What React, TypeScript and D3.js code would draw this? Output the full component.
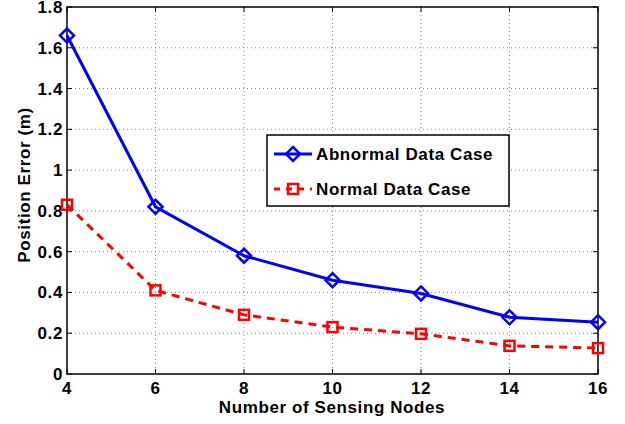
import { useEffect, useRef } from "react";
import * as d3 from "d3";

const nodes = [4, 6, 8, 10, 12, 14, 16];
const abnormal = [1.66, 0.82, 0.58, 0.46, 0.395, 0.278, 0.254];
const normal = [0.83, 0.41, 0.29, 0.23, 0.197, 0.138, 0.127];
const yTicks = [0, 0.2, 0.4, 0.6, 0.8, 1, 1.2, 1.4, 1.6, 1.8];

const W = 625;
const H = 424;
const FONT = "'Liberation Sans', Arial, sans-serif";

export default function App() {
  const svgRef = useRef<SVGSVGElement>(null);

  useEffect(() => {
    const svg = d3.select(svgRef.current);
    svg.selectAll("*").remove();

    const left = 67, right = 598, top = 7, bottom = 374;
    const x = d3.scaleLinear().domain([4, 16]).range([left, right]);
    const y = d3.scaleLinear().domain([0, 1.8]).range([bottom, top]);

    svg.append("rect").attr("width", W).attr("height", H).attr("fill", "#fff");

    // grid
    const grid = svg.append("g").attr("stroke", "#888").attr("stroke-width", 1).attr("stroke-dasharray", "1,3");
    nodes.slice(1, -1).forEach((n) => {
      grid.append("line").attr("x1", x(n)).attr("x2", x(n)).attr("y1", top).attr("y2", bottom);
    });
    yTicks.slice(1, -1).forEach((t) => {
      grid.append("line").attr("x1", left).attr("x2", right).attr("y1", y(t)).attr("y2", y(t));
    });

    // ticks (inside)
    const ticks = svg.append("g").attr("stroke", "#000").attr("stroke-width", 1);
    nodes.forEach((n) => {
      ticks.append("line").attr("x1", x(n)).attr("x2", x(n)).attr("y1", bottom).attr("y2", bottom - 5);
      ticks.append("line").attr("x1", x(n)).attr("x2", x(n)).attr("y1", top).attr("y2", top + 5);
    });
    yTicks.forEach((t) => {
      ticks.append("line").attr("x1", left).attr("x2", left + 5).attr("y1", y(t)).attr("y2", y(t));
      ticks.append("line").attr("x1", right).attr("x2", right - 5).attr("y1", y(t)).attr("y2", y(t));
    });

    svg.append("rect")
      .attr("x", left).attr("y", top)
      .attr("width", right - left).attr("height", bottom - top)
      .attr("fill", "none").attr("stroke", "#000").attr("stroke-width", 1.5);

    // tick labels
    const lbl = svg.append("g")
      .attr("font-family", FONT).attr("font-weight", "bold").attr("font-size", 17)
      .attr("letter-spacing", 0.6).attr("fill", "#000");
    yTicks.forEach((t) => {
      lbl.append("text").attr("x", left - 4).attr("y", y(t) + 6)
        .attr("text-anchor", "end").text(d3.format("~g")(t));
    });
    nodes.forEach((n) => {
      lbl.append("text").attr("x", x(n)).attr("y", bottom + 20)
        .attr("text-anchor", "middle").text(n);
    });

    const title = (sel: d3.Selection<SVGTextElement, unknown, null, undefined>) =>
      sel.attr("font-family", FONT).attr("font-weight", "bold")
        .attr("font-size", 17).attr("letter-spacing", 0.6).attr("fill", "#000");

    svg.append("text")
      .attr("x", 332).attr("y", 413)
      .attr("text-anchor", "middle").call(title).text("Number of Sensing Nodes");
    svg.append("text")
      .attr("transform", "translate(30,185) rotate(-90)")
      .attr("text-anchor", "middle").call(title).text("Position Error (m)");

    const line = d3.line<number>().x((_, i) => x(nodes[i])).y((d) => y(d));
    const diamond = (cx: number, cy: number, r = 7) =>
      `M${cx},${cy - r}L${cx + r},${cy}L${cx},${cy + r}L${cx - r},${cy}Z`;

    svg.append("path").attr("d", line(normal)).attr("fill", "none")
      .attr("stroke", "#ff0000").attr("stroke-width", 3).attr("stroke-dasharray", "8,6");
    svg.append("g").selectAll("rect").data(normal).enter().append("rect")
      .attr("x", (_, i) => x(nodes[i]) - 5).attr("y", (d) => y(d) - 5)
      .attr("width", 10).attr("height", 10)
      .attr("fill", "none").attr("stroke", "#ff0000").attr("stroke-width", 2.5);

    svg.append("path").attr("d", line(abnormal)).attr("fill", "none")
      .attr("stroke", "#0000ff").attr("stroke-width", 3);
    svg.append("g").selectAll("path").data(abnormal).enter().append("path")
      .attr("d", (d, i) => diamond(x(nodes[i]), y(d)))
      .attr("fill", "none").attr("stroke", "#0000ff").attr("stroke-width", 2.5);

    // legend
    const lg = svg.append("g");
    lg.append("rect").attr("x", 267).attr("y", 135).attr("width", 242).attr("height", 71)
      .attr("fill", "#fff").attr("stroke", "#000").attr("stroke-width", 1.5);
    lg.append("line").attr("x1", 274).attr("x2", 312).attr("y1", 154).attr("y2", 154)
      .attr("stroke", "#0000ff").attr("stroke-width", 3);
    lg.append("path").attr("d", diamond(293, 154)).attr("fill", "none")
      .attr("stroke", "#0000ff").attr("stroke-width", 2.5);
    lg.append("line").attr("x1", 274).attr("x2", 312).attr("y1", 189).attr("y2", 189)
      .attr("stroke", "#ff0000").attr("stroke-width", 3).attr("stroke-dasharray", "6,6");
    lg.append("rect").attr("x", 288).attr("y", 184).attr("width", 10).attr("height", 10)
      .attr("fill", "none").attr("stroke", "#ff0000").attr("stroke-width", 2.5);
    lg.append("text").attr("x", 316).attr("y", 160).call(title).text("Abnormal Data Case");
    lg.append("text").attr("x", 316).attr("y", 195).call(title).text("Normal Data Case");
  }, []);

  return (
    <div style={{ position: "fixed", left: 0, top: 0 }}>
      <svg ref={svgRef} width={W} height={H} style={{ display: "block" }} />
    </div>
  );
}
